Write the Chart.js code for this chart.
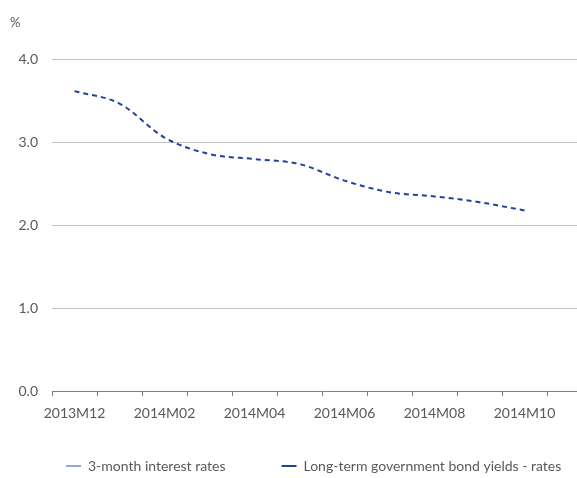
<!DOCTYPE html>
<html>
<head>
<meta charset="utf-8">
<script src="https://cdn.jsdelivr.net/npm/chart.js@4"></script>
<style>
  html, body { margin: 0; padding: 0; background: #fff; overflow: hidden; }
  #wrap { width: 800px; height: 478px; position: relative; }
</style>
</head>
<body>
<div id="wrap"><canvas id="c"></canvas></div>
<script>
const categories = ['2013M12','2014M01','2014M02','2014M03','2014M04','2014M05','2014M06','2014M07','2014M08','2014M09','2014M10','2014M11'];
const threeMonthRates = [null,null,null,null,null,null,null,null,null,null,null,null];
const longTermYields = [3.62,3.47,3.06,2.86,2.80,2.74,2.54,2.40,2.35,2.28,2.18,null];
const yTicks = [0,1,2,3,4];
const seriesNames = ['3-month interest rates','Long-term government bond yields - rates'];

const FONT = 'Lato, "Open Sans", sans-serif';
const TXT = '#595959';
const LEGEND_PAD = 56;

// places the legend row where the reference has it (text centre ~466px)
const legendShift = {
  id: 'legendShift',
  afterLayout(chart) {
    const l = chart.legend;
    if (l) {
      l.top = 466 - 7 - LEGEND_PAD;
      l.bottom = chart.height;
    }
  }
};

new Chart(document.getElementById('c'), {
  type: 'line',
  plugins: [legendShift],
  data: {
    labels: categories,
    datasets: [
      { label: seriesNames[0], data: threeMonthRates, borderColor: '#7089cc', backgroundColor: '#7089cc', borderWidth: 1.5, pointRadius: 0, tension: 0.4 },
      { label: seriesNames[1], data: longTermYields, borderColor: '#24409c', backgroundColor: '#24409c', borderWidth: 2, borderDash: [5, 4], pointRadius: 0, cubicInterpolationMode: 'monotone' }
    ]
  },
  options: {
    responsive: true,
    maintainAspectRatio: false,
    animation: false,
    layout: { padding: { top: 15, left: 10, right: 0, bottom: -5 } },
    plugins: {
      title: { display: true, text: '%', align: 'start', color: TXT, font: { family: FONT, size: 13, weight: 'normal' }, padding: { top: 0, bottom: 29 } },
      legend: {
        position: 'bottom',
        align: 'start',
        maxHeight: 52,
        labels: { color: TXT, font: { family: FONT, size: 14 }, usePointStyle: true, pointStyle: 'line', pointStyleWidth: 15, boxWidth: 15, boxHeight: 10, padding: LEGEND_PAD }
      },
      tooltip: { enabled: false }
    },
    scales: {
      x: {
        type: 'category',
        offset: true,
        grid: { display: true, drawOnChartArea: false, drawTicks: true, tickLength: 5, color: '#808080', offset: true },
        border: { display: true, color: '#808080', width: 1 },
        ticks: {
          autoSkip: false, maxRotation: 0, minRotation: 0, padding: 9, color: TXT,
          font: { family: FONT, size: 14 },
          callback: function(v, i) { return i % 2 === 0 ? categories[i] : ''; }
        }
      },
      y: {
        min: 0, max: 4,
        afterBuildTicks: function(s) { s.ticks = yTicks.map(v => ({ value: v })); },
        afterFit: function(s) { s.width = 42; },
        grid: { color: '#c2c2c2', drawTicks: false, lineWidth: 1 },
        border: { display: false },
        ticks: { padding: 14, color: TXT, font: { family: FONT, size: 14 }, callback: v => v.toFixed(1) }
      },
      yRight: {
        type: 'linear',
        position: 'right',
        display: true,
        afterFit: function(s) { s.width = 208; },
        grid: { display: false, drawTicks: false },
        border: { display: false },
        ticks: { display: false }
      }
    }
  }
});
</script>
</body>
</html>
